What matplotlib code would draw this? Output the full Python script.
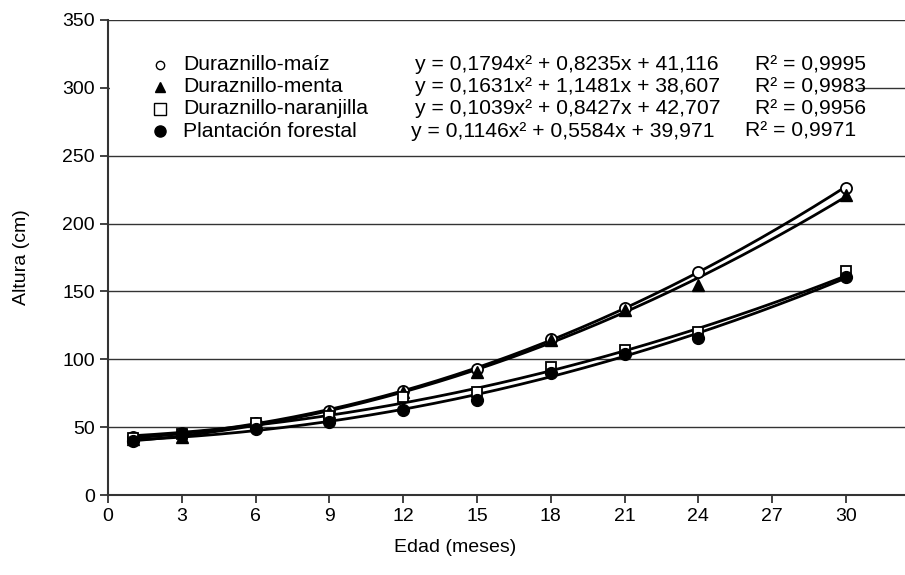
import numpy as np
import matplotlib
matplotlib.use("Agg")
import matplotlib.pyplot as plt
from matplotlib.patches import Rectangle

plt.rcParams['font.family'] = ['Liberation Sans', 'DejaVu Sans']

# ---- data ----
months = [1, 3, 6, 9, 12, 15, 18, 21, 24, 30]
names = ["Duraznillo-maíz", "Duraznillo-menta", "Duraznillo-naranjilla", "Plantación forestal"]
maiz = [43, 46, 53, 62, 77, 93, 115, 138, 164, 226]
menta = [41, 43, 52, 61, 76, 91, 114, 136, 155, 221]
naranjilla = [42, 45, 53, 58, 72, 76, 94, 107, 120, 165]
forestal = [40, 45, 49, 54, 63, 70, 90, 104, 116, 161]
# trend-line coefficients (a, b, c) as printed in the chart
coef_maiz = [0.1794, 0.8235, 41.116]
coef_menta = [0.1631, 1.1481, 38.607]
coef_naranjilla = [0.1039, 0.8427, 42.707]
coef_forestal = [0.1146, 0.5584, 39.971]
equations = ["y = 0,1794x² + 0,8235x + 41,116",
             "y = 0,1631x² + 1,1481x + 38,607",
             "y = 0,1039x² + 0,8427x + 42,707",
             "y = 0,1146x² + 0,5584x + 39,971"]
r2_labels = ["R² = 0,9995", "R² = 0,9983", "R² = 0,9956", "R² = 0,9971"]
x_ticks = [0, 3, 6, 9, 12, 15, 18, 21, 24, 27, 30]
y_ticks = [0, 50, 100, 150, 200, 250, 300, 350]

series = [maiz, menta, naranjilla, forestal]
coefs = [coef_maiz, coef_menta, coef_naranjilla, coef_forestal]
styles = [dict(marker='o', mfc='white', mec='black', ms=8, mew=1.3),
          dict(marker='^', mfc='black', mec='black', ms=8),
          dict(marker='s', mfc='white', mec='black', ms=7.5, mew=1.3),
          dict(marker='o', mfc='black', mec='black', ms=8.5)]

fig = plt.figure(figsize=(9.05, 5.75), dpi=100)
ax = fig.add_axes([108/905, 1-495/575, 1-108/905, (495-20)/575])

xx = np.linspace(months[0], months[-1], 200)
for vals, c, st in zip(series, coefs, styles):
    ax.plot(xx, np.polyval(c, xx), color='black', lw=2.0, zorder=3)
    ax.plot(months, vals, linestyle='none', zorder=4, **st)

ax.set_xlim(0, 32.4)
ax.set_ylim(0, 350)
ax.set_xticks(x_ticks)
ax.set_yticks(y_ticks)
ax.tick_params(axis='both', labelsize=14, direction='out', length=6, width=1.3,
               colors='#333333', labelcolor='black')
ax.yaxis.grid(True, color='#333333', lw=1.0, zorder=1)
ax.set_axisbelow(True)
for s in ['top', 'right']:
    ax.spines[s].set_visible(False)
for s in ['left', 'bottom']:
    ax.spines[s].set_color('#333333')
    ax.spines[s].set_linewidth(1.5)

ax.set_xlabel("Edad (meses)", fontsize=14)
ax.xaxis.set_label_coords((455-108)/797, -(548-495)/475, transform=ax.transAxes)
ax.set_ylabel("Altura (cm)", fontsize=14)
ax.yaxis.set_label_coords(-(108-22)/797, 0.5, transform=ax.transAxes)
ax.xaxis.label.set_va('center')
ax.yaxis.label.set_va('center')

# white legend box (covers the 300 gridline)
ax.add_patch(Rectangle((0.1, 258), 30.4, 70, facecolor='white', edgecolor='none',
                       zorder=2))

row_y = [317, 300.7, 284.5, 268.2]
leg_styles = [dict(marker='o', mfc='white', mec='black', ms=6, mew=1.0),
              dict(marker='^', mfc='black', mec='black', ms=7),
              dict(marker='s', mfc='white', mec='black', ms=8, mew=1.0),
              dict(marker='o', mfc='black', mec='black', ms=8)]
eq_x = [12.5, 12.5, 12.5, 12.3]
r2_x = [26.3, 26.3, 26.3, 25.9]
fs = 15.2
for i in range(4):
    ax.plot([2.1], [row_y[i]], linestyle='none', zorder=5, **leg_styles[i])
    ax.text(3.05, row_y[i], names[i], fontsize=fs, va='center', ha='left', zorder=5)
    ax.text(eq_x[i], row_y[i], equations[i], fontsize=fs, va='center', ha='left', zorder=5)
    ax.text(r2_x[i], row_y[i], r2_labels[i], fontsize=fs, va='center', ha='left', zorder=5)

fig.savefig("out.png", dpi=100)
